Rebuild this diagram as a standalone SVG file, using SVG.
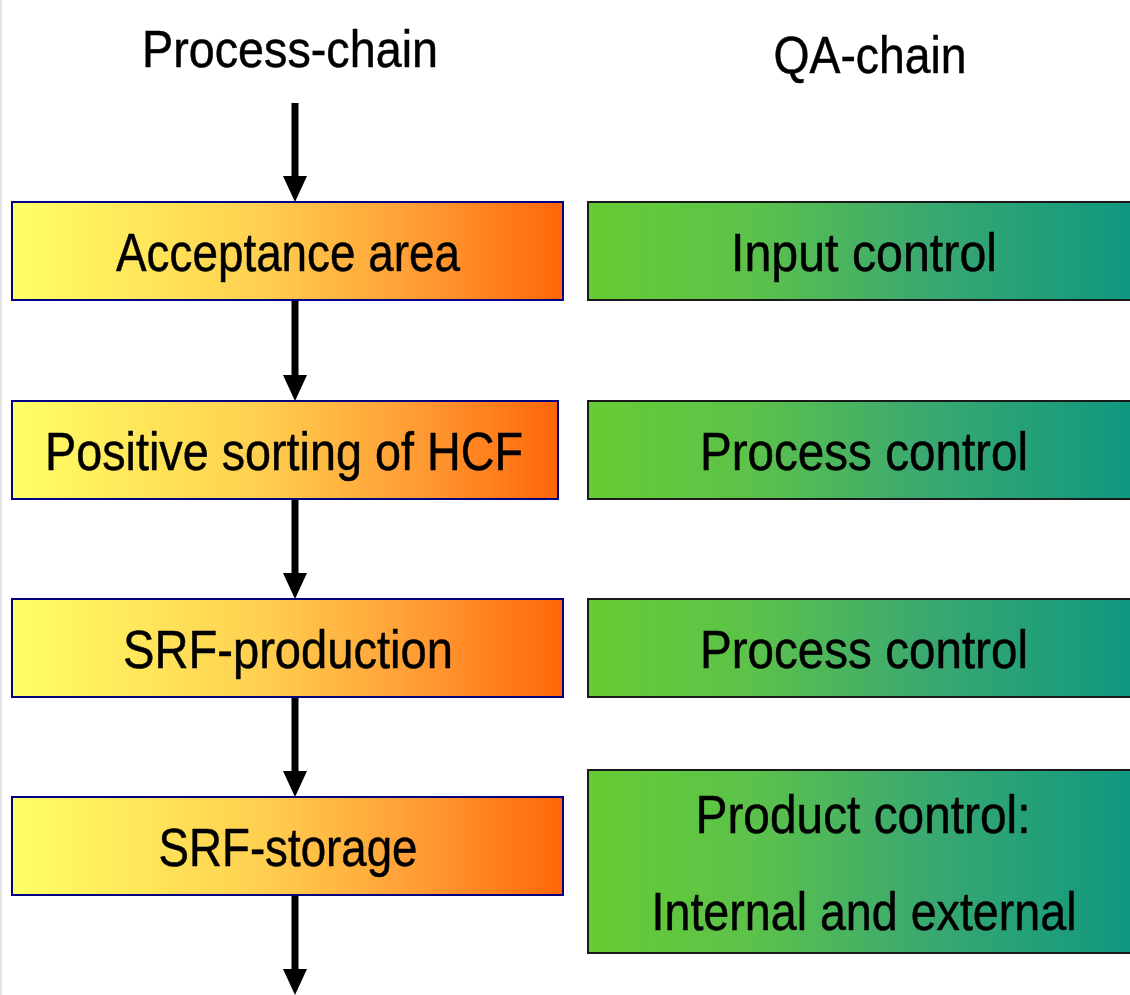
<svg xmlns="http://www.w3.org/2000/svg" width="1130" height="995" viewBox="0 0 1130 995">
<defs>
<linearGradient id="gOrange" x1="0" y1="0" x2="1" y2="0">
<stop offset="0" stop-color="#FFFF66"/>
<stop offset="0.45" stop-color="#FFD050"/>
<stop offset="0.75" stop-color="#FF9A33"/>
<stop offset="1" stop-color="#FF6608"/>
</linearGradient>
<linearGradient id="gGreen" gradientUnits="userSpaceOnUse" x1="588" y1="0" x2="1130" y2="0">
<stop offset="0" stop-color="#66CC33"/>
<stop offset="0.3" stop-color="#5CC24A"/>
<stop offset="0.6" stop-color="#3DAA6E"/>
<stop offset="1" stop-color="#0F9880"/>
</linearGradient>
<marker id="ah" markerUnits="userSpaceOnUse" markerWidth="26" markerHeight="24" refX="13" refY="12" orient="auto">
<path d="M0,0 L26,12 L0,24 z" fill="#000"/>
</marker>
<style>
.t{font-family:"Liberation Sans",Arial,sans-serif;font-size:54px;fill:#000;stroke:#000;stroke-width:0.5;text-anchor:middle}
.h{font-family:"Liberation Sans",Arial,sans-serif;font-size:52px;fill:#000;stroke:#000;stroke-width:0.5;text-anchor:middle}
.po{fill:url(#gOrange);stroke:#000080;stroke-width:2}
.qa{fill:url(#gGreen);stroke:#1a1a1a;stroke-width:2}
.c{stroke:#000;stroke-width:7;fill:none;marker-end:url(#ah)}
</style>
</defs>
<rect x="0" y="0" width="1130" height="995" fill="#fff"/>
<rect x="0" y="0" width="2" height="995" fill="#e4e4e4"/>
<g id="headers">
<text class="h" x="290" y="67" textLength="296" lengthAdjust="spacingAndGlyphs">Process-chain</text>
<text class="h" x="870" y="73" textLength="193" lengthAdjust="spacingAndGlyphs">QA-chain</text>
</g>
<g id="connectors">
<line class="c" x1="295" y1="103" x2="295" y2="189"/>
<line class="c" x1="295" y1="300" x2="295" y2="388"/>
<line class="c" x1="295" y1="499" x2="295" y2="586"/>
<line class="c" x1="295" y1="697" x2="295" y2="784"/>
<line class="c" x1="295" y1="896" x2="295" y2="982"/>
</g>
<g id="p1"><rect class="po" x="12" y="202" width="551" height="98"/><text class="t" x="288" y="271" textLength="344" lengthAdjust="spacingAndGlyphs">Acceptance area</text></g>
<g id="p2"><rect class="po" x="12" y="401" width="546" height="98"/><text class="t" x="284" y="470" textLength="478" lengthAdjust="spacingAndGlyphs">Positive sorting of HCF</text></g>
<g id="p3"><rect class="po" x="12" y="599" width="551" height="98"/><text class="t" x="288" y="668" textLength="330" lengthAdjust="spacingAndGlyphs">SRF-production</text></g>
<g id="p4"><rect class="po" x="12" y="797" width="551" height="98"/><text class="t" x="288" y="866" textLength="259" lengthAdjust="spacingAndGlyphs">SRF-storage</text></g>
<g id="q1"><rect class="qa" x="588" y="202" width="560" height="98"/><text class="t" x="864" y="271" textLength="266" lengthAdjust="spacingAndGlyphs">Input control</text></g>
<g id="q2"><rect class="qa" x="588" y="401" width="560" height="98"/><text class="t" x="864" y="470" textLength="328" lengthAdjust="spacingAndGlyphs">Process control</text></g>
<g id="q3"><rect class="qa" x="588" y="599" width="560" height="98"/><text class="t" x="864" y="668" textLength="328" lengthAdjust="spacingAndGlyphs">Process control</text></g>
<g id="q4"><rect class="qa" x="588" y="770" width="560" height="183"/><text class="t" x="863" y="833" textLength="335" lengthAdjust="spacingAndGlyphs">Product control:</text><text class="t" x="864" y="930" textLength="425" lengthAdjust="spacingAndGlyphs">Internal and external</text></g>
</svg>
